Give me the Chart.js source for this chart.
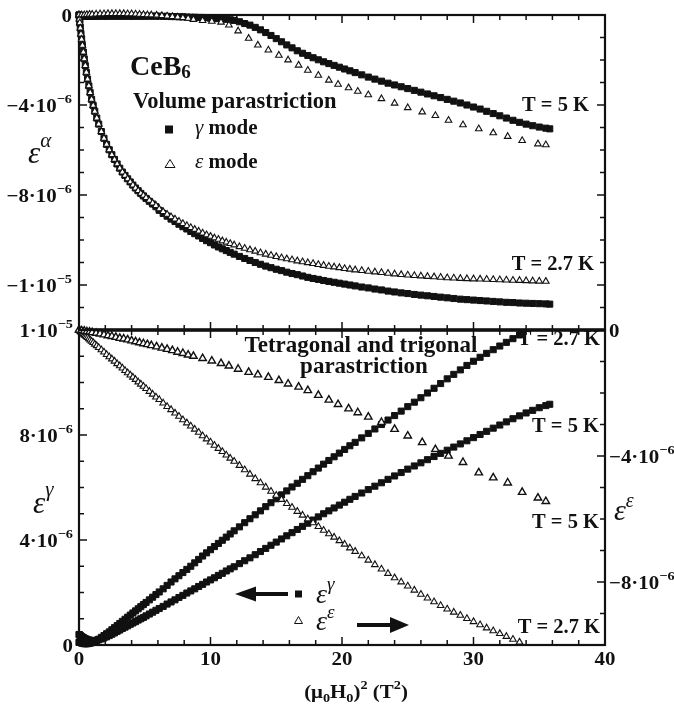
<!DOCTYPE html>
<html><head><meta charset="utf-8">
<script src="https://cdn.jsdelivr.net/npm/chart.js@4.4.1/dist/chart.umd.min.js"></script>
<style>
html,body{margin:0;padding:0;background:#fff;}
#wrap{position:relative;width:674px;height:704px;background:#fff;}
canvas{position:absolute;left:0;top:0;width:674px;height:704px;}
</style>
</head><body>
<div id="wrap"><canvas id="cBot" width="674" height="704"></canvas><canvas id="cTop" width="674" height="704"></canvas></div>
<script>
// ---------- DATA (strain values in units of 1e-6) ----------
const X_DENSE = [0,0.03,0.06,0.1,0.15,0.2,0.26,0.33,0.4,0.48,
 0.56,0.65,0.75,0.85,0.96,1.08,1.2,1.35,1.5,1.7,
 1.9,2.1,2.3,2.5,2.7,2.9,3.1,3.3,3.5,3.7,
 3.9,4.1,4.3,4.5,4.7,4.9,5.1,5.35,5.6,5.85,
 6.1,6.4,6.7,7.0,7.3,7.6,7.9,8.2,8.5,8.8,
 9.1,9.4,9.7,10.0,10.3,10.6,10.9,11.2,11.5,11.8,
 12.2,12.6,13.0,13.4,13.8,14.2,14.6,15.0,15.4,15.8,
 16.2,16.6,17.0,17.4,17.8,18.2,18.6,19.0,19.4,19.8,
 20.2,20.6,21.0,21.5,22.0,22.5,23.0,23.5,24.0,24.5,
 25.0,25.5,26.0,26.5,27.0,27.5,28.0,28.5,29.0,29.5,
 30.0,30.5,31.0,31.5,32.0,32.5,33.0,33.5,34.0,34.5,
 35.0,35.5,35.8];

// top panel: volume strain, gamma mode, T = 2.7 K (squares)
const TOP_GAMMA_27 = [0,-0.18,-0.35,-0.58,-0.85,-1.08,-1.35,-1.65,-1.95,-2.25,
 -2.55,-2.85,-3.15,-3.45,-3.75,-4.02,-4.28,-4.58,-4.85,-5.18,
 -5.48,-5.75,-5.99,-6.21,-6.42,-6.62,-6.81,-6.98,-7.13,-7.28,
 -7.42,-7.56,-7.69,-7.81,-7.93,-8.04,-8.15,-8.28,-8.4,-8.52,
 -8.68,-8.82,-8.94,-9.07,-9.18,-9.3,-9.41,-9.51,-9.62,-9.72,
 -9.82,-9.93,-10.03,-10.12,-10.22,-10.31,-10.39,-10.47,-10.55,-10.63,
 -10.73,-10.82,-10.91,-11.0,-11.08,-11.16,-11.23,-11.3,-11.36,-11.43,
 -11.49,-11.54,-11.6,-11.66,-11.71,-11.75,-11.8,-11.84,-11.88,-11.92,
 -11.96,-12.0,-12.04,-12.09,-12.13,-12.18,-12.22,-12.27,-12.31,-12.35,
 -12.38,-12.42,-12.45,-12.48,-12.51,-12.54,-12.57,-12.6,-12.63,-12.65,
 -12.67,-12.69,-12.71,-12.73,-12.75,-12.77,-12.78,-12.8,-12.81,-12.82,
 -12.83,-12.84,-12.85];
// top panel: eps mode, T = 2.7 K (triangles)
const TOP_EPS_27 = [0,-0.18,-0.35,-0.58,-0.85,-1.08,-1.35,-1.65,-1.95,-2.25,
 -2.55,-2.85,-3.15,-3.45,-3.75,-4.02,-4.28,-4.58,-4.85,-5.18,
 -5.48,-5.75,-5.99,-6.21,-6.42,-6.62,-6.81,-6.98,-7.13,-7.28,
 -7.42,-7.56,-7.69,-7.81,-7.93,-8.02,-8.12,-8.24,-8.36,-8.47,
 -8.62,-8.74,-8.86,-8.97,-9.07,-9.17,-9.27,-9.36,-9.45,-9.53,
 -9.61,-9.69,-9.77,-9.84,-9.91,-9.97,-10.04,-10.1,-10.16,-10.22,
 -10.3,-10.37,-10.44,-10.5,-10.57,-10.63,-10.68,-10.74,-10.79,-10.84,
 -10.88,-10.93,-10.97,-11.01,-11.05,-11.09,-11.13,-11.17,-11.2,-11.23,
 -11.27,-11.3,-11.33,-11.36,-11.39,-11.42,-11.45,-11.48,-11.51,-11.54,
 -11.56,-11.58,-11.6,-11.62,-11.64,-11.66,-11.68,-11.69,-11.71,-11.72,
 -11.73,-11.74,-11.75,-11.76,-11.77,-11.78,-11.79,-11.8,-11.81,-11.82,
 -11.83,-11.84,null];
// top panel: gamma mode, T = 5 K (squares)
const TOP_GAMMA_5 = [0,-0.01,-0.02,-0.03,-0.04,-0.05,-0.05,-0.05,-0.05,-0.05,
 -0.05,-0.05,-0.05,-0.05,-0.05,-0.05,-0.05,-0.05,-0.05,-0.05,
 -0.05,-0.05,-0.05,-0.05,-0.05,-0.05,-0.05,-0.05,-0.05,-0.05,
 -0.05,-0.05,-0.05,-0.05,-0.05,-0.05,-0.05,-0.05,-0.05,-0.05,
 -0.05,-0.06,-0.06,-0.07,-0.07,-0.08,-0.08,-0.09,-0.1,-0.1,
 -0.11,-0.11,-0.12,-0.14,-0.15,-0.16,-0.17,-0.19,-0.21,-0.24,
 -0.3,-0.38,-0.45,-0.55,-0.66,-0.78,-0.91,-1.05,-1.19,-1.33,
 -1.46,-1.59,-1.7,-1.8,-1.9,-1.99,-2.08,-2.16,-2.24,-2.32,
 -2.4,-2.48,-2.56,-2.66,-2.76,-2.85,-2.94,-3.03,-3.11,-3.19,
 -3.27,-3.35,-3.43,-3.51,-3.59,-3.67,-3.75,-3.83,-3.91,-4.0,
 -4.09,-4.18,-4.28,-4.38,-4.48,-4.58,-4.68,-4.77,-4.85,-4.92,
 -4.98,-5.03,-5.06];

// bottom panel: eps_gamma (left axis), T = 2.7 K (squares)
const BOT_GAMMA_27 = [0.1,0.1,0.1,0.1,0.09,0.08,0.07,0.06,0.05,0.05,
 0.05,0.05,0.06,0.07,0.09,0.11,0.14,0.18,0.22,0.29,
 0.36,0.43,0.5,0.58,0.66,0.74,0.82,0.9,0.98,1.06,
 1.14,1.22,1.3,1.38,1.46,1.54,1.62,1.72,1.82,1.92,
 2.02,2.14,2.27,2.4,2.52,2.64,2.76,2.88,3.0,3.13,
 3.26,3.39,3.51,3.63,3.75,3.87,3.99,4.11,4.23,4.35,
 4.5,4.66,4.81,4.96,5.11,5.27,5.42,5.57,5.72,5.87,
 6.02,6.16,6.31,6.45,6.6,6.74,6.89,7.03,7.17,7.31,
 7.45,7.59,7.72,7.89,8.06,8.23,8.4,8.57,8.74,8.91,
 9.08,9.25,9.42,9.6,9.78,9.96,10.14,10.31,10.48,10.65,
 10.81,10.96,11.11,11.25,11.39,11.53,11.67,11.81,null,null,
 null,null,null];
// bottom panel: eps_gamma (left axis), T = 5 K (squares)
const BOT_GAMMA_5 = [0.4,0.39,0.38,0.36,0.34,0.32,0.3,0.28,0.26,0.24,
 0.22,0.2,0.19,0.18,0.17,0.17,0.17,0.18,0.2,0.23,
 0.27,0.31,0.36,0.41,0.46,0.52,0.57,0.63,0.68,0.73,
 0.79,0.84,0.89,0.95,1.0,1.05,1.11,1.18,1.25,1.32,
 1.39,1.47,1.56,1.64,1.72,1.81,1.89,1.98,2.06,2.14,
 2.23,2.31,2.4,2.48,2.56,2.65,2.73,2.82,2.9,2.98,
 3.1,3.21,3.32,3.44,3.56,3.68,3.8,3.92,4.04,4.16,
 4.28,4.4,4.52,4.64,4.76,4.88,5.0,5.11,5.22,5.33,
 5.44,5.55,5.66,5.79,5.92,6.05,6.18,6.31,6.44,6.57,
 6.7,6.82,6.94,7.06,7.18,7.3,7.42,7.54,7.66,7.78,
 7.9,8.02,8.14,8.26,8.38,8.5,8.62,8.73,8.84,8.94,
 9.04,9.12,9.17];
// bottom panel: eps_eps (right axis), T = 2.7 K (triangles)
const BOT_EPS_27 = [0,-0.01,-0.02,-0.04,-0.06,-0.08,-0.1,-0.13,-0.15,-0.18,
 -0.21,-0.24,-0.28,-0.32,-0.36,-0.4,-0.45,-0.5,-0.56,-0.63,
 -0.7,-0.78,-0.85,-0.92,-0.99,-1.07,-1.14,-1.21,-1.29,-1.36,
 -1.43,-1.5,-1.57,-1.65,-1.72,-1.79,-1.86,-1.95,-2.04,-2.13,
 -2.21,-2.32,-2.43,-2.53,-2.64,-2.74,-2.85,-2.95,-3.05,-3.15,
 -3.25,-3.36,-3.46,-3.56,-3.66,-3.76,-3.86,-3.97,-4.07,-4.17,
 -4.3,-4.44,-4.58,-4.72,-4.85,-4.99,-5.12,-5.25,-5.38,-5.51,
 -5.63,-5.76,-5.88,-6.0,-6.12,-6.24,-6.36,-6.47,-6.58,-6.69,
 -6.8,-6.92,-7.03,-7.17,-7.31,-7.45,-7.59,-7.73,-7.87,-8.0,
 -8.13,-8.26,-8.39,-8.51,-8.63,-8.75,-8.86,-8.96,-9.06,-9.16,
 -9.26,-9.36,-9.46,-9.55,-9.64,-9.73,-9.82,-9.91,null,null,
 null,null,null];

const X_SPARSE = [0,0.2,0.4,0.6,0.8,1.0,1.3,1.6,1.9,2.2,
 2.5,2.8,3.1,3.4,3.7,4.0,4.3,4.6,4.9,5.2,
 5.5,5.9,6.3,6.7,7.1,7.5,7.9,8.3,8.7,9.4,
 10.1,10.8,11.4,12.1,12.9,13.6,14.4,15.2,15.9,16.7,
 17.4,18.2,19.0,19.7,20.5,21.2,22.0,23.0,24.0,25.0,
 26.1,27.1,28.1,29.2,30.4,31.5,32.6,33.7,34.9,35.5];
// top panel: eps mode, T = 5 K (triangles)
const TOP_EPS_5 = [0,0,0.01,0.02,0.03,0.03,0.04,0.05,0.05,0.06,
 0.06,0.06,0.06,0.06,0.05,0.05,0.04,0.03,0.02,0.01,
 0,-0.01,-0.03,-0.05,-0.07,-0.09,-0.12,-0.15,-0.2,-0.25,
 -0.28,-0.32,-0.45,-0.71,-1.04,-1.34,-1.56,-1.79,-2.0,-2.23,
 -2.46,-2.68,-2.9,-3.08,-3.24,-3.39,-3.55,-3.72,-3.92,-4.12,
 -4.31,-4.47,-4.68,-4.88,-5.06,-5.24,-5.4,-5.58,-5.73,-5.77];
// bottom panel: eps_eps (right axis), T = 5 K (triangles)
const BOT_EPS_5 = [0,-0.02,-0.03,-0.05,-0.06,-0.08,-0.1,-0.12,-0.15,-0.18,
 -0.2,-0.23,-0.26,-0.28,-0.31,-0.34,-0.37,-0.4,-0.43,-0.46,
 -0.49,-0.53,-0.57,-0.61,-0.65,-0.7,-0.74,-0.79,-0.83,-0.9,
 -0.98,-1.06,-1.14,-1.24,-1.34,-1.42,-1.5,-1.6,-1.71,-1.81,
 -1.92,-2.07,-2.22,-2.36,-2.5,-2.62,-2.76,-2.93,-3.15,-3.36,
 -3.57,-3.79,-4.0,-4.2,-4.53,-4.69,-4.85,-5.15,-5.33,-5.44];

// ---------- AXES / TICKS ----------
const X_MAJOR = [0,10,20,30,40];
const X_LABELS = ['0','10','20','30','40'];
const TOP_Y_MAJOR = [0,-4,-8,-12];
const TOP_Y_LABELS = [['0',''],['\u22124\u00b710','\u22126'],['\u22128\u00b710','\u22126'],['\u22121\u00b710','\u22125']];
const BOT_L_MAJOR = [0,4,8,12];
const BOT_L_LABELS = [['0',''],['4\u00b710','\u22126'],['8\u00b710','\u22126'],['1\u00b710','\u22125']];
const BOT_R_MAJOR = [0,-4,-8];
const BOT_R_LABELS = [['0',''],['\u22124\u00b710','\u22126'],['\u22128\u00b710','\u22126']];

function pairs(xs, ys){ const out=[]; for(let i=0;i<xs.length;i++){ if(ys[i]!==null && ys[i]!==undefined) out.push({x:xs[i], y:ys[i]}); } return out; }

const SERIF = '"Liberation Serif","Times New Roman",serif';
const INK = '#111';
function F(style,size){ return style+' '+size+'px '+SERIF; }
function runs(ctx, parts, x, y, align){
  let total=0;
  for(const p of parts){ ctx.font=p.f; p.w=ctx.measureText(p.t).width*(p.sx||1); total+=p.w; }
  let cx = align==='right' ? x-total : (align==='center' ? x-total/2 : x);
  for(const p of parts){
    ctx.save(); ctx.font=p.f; ctx.fillStyle=INK; ctx.textAlign='left'; ctx.textBaseline='alphabetic';
    ctx.translate(cx, y+(p.dy||0)); ctx.scale(p.sx||1,1); ctx.fillText(p.t,0,0); ctx.restore();
    cx+=p.w;
  }
}
function sci(lbl){ const a=[{t:lbl[0],f:F('bold',19),sx:1.1}]; if(lbl[1]) a.push({t:lbl[1],f:F('bold',13),sx:1.1,dy:-9}); return a; }

function line(ctx,x1,y1,x2,y2){ ctx.beginPath(); ctx.moveTo(x1,y1); ctx.lineTo(x2,y2); ctx.stroke(); }
function ticksX(ctx, xs, y, dir){
  ctx.lineWidth=1.5;
  for(let v=0; v<=40; v+=2){ const px=xs.getPixelForValue(v); line(ctx,px,y,px,y+dir*(X_MAJOR.includes(v)?8:5)); }
}
function ticksY(ctx, ys, x, dir, lo, hi, majors){
  ctx.lineWidth=1.5;
  for(let v=lo; v<=hi; v+=1){ const py=ys.getPixelForValue(v); line(ctx,x,py,x+dir*(majors.includes(v)?8:5),py); }
}
function sq(ctx,cx,cy,s){ ctx.fillStyle=INK; ctx.fillRect(cx-s/2,cy-s/2,s,s); }
function tri(ctx,cx,cy,w,h){ ctx.beginPath(); ctx.moveTo(cx,cy-h/2); ctx.lineTo(cx+w/2,cy+h/2); ctx.lineTo(cx-w/2,cy+h/2); ctx.closePath(); ctx.fillStyle='#fff'; ctx.fill(); ctx.strokeStyle=INK; ctx.lineWidth=1; ctx.stroke(); }
function arrow(ctx, x1, x2, y, headLen, headH, shaft){
  const dir = Math.sign(x2-x1);
  const hb = x2 - dir*headLen;
  ctx.fillStyle=INK;
  ctx.fillRect(Math.min(x1,hb), y-shaft/2, Math.abs(hb-x1), shaft);
  ctx.beginPath(); ctx.moveTo(x2,y); ctx.lineTo(hb,y-headH/2); ctx.lineTo(hb,y+headH/2); ctx.closePath(); ctx.fill();
}

const SQ = {pointStyle:'rect', pointRadius:4.3, backgroundColor:INK, borderColor:INK, borderWidth:1, showLine:false, clip:false};
const TR = {pointStyle:'triangle', pointRadius:3.8, backgroundColor:'#fff', borderColor:INK, borderWidth:1.1, showLine:false, clip:false};
const TR_BIG = {pointStyle:'triangle', pointRadius:4.3, backgroundColor:'#fff', borderColor:INK, borderWidth:1.4, showLine:false, clip:false};

const L=79, R=605, TOPY=15, MID=330, BOTY=645, W=674, H=704;

// ---------- TOP PANEL ----------
const topPlugin = {
  id:'topDeco',
  beforeDatasetsDraw(chart){
    const ctx=chart.ctx, xs=chart.scales.x, ys=chart.scales.y;
    ctx.save(); ctx.strokeStyle=INK;
    ticksX(ctx,xs,TOPY,1); ticksX(ctx,xs,MID,-1);
    ticksY(ctx,ys,L,1,-14,0,TOP_Y_MAJOR); ticksY(ctx,ys,R,-1,-14,0,TOP_Y_MAJOR);
    ctx.lineWidth=2.2; ctx.strokeRect(L,TOPY,R-L,MID-TOPY);
    ctx.restore();
  },
  afterDraw(chart){
    const ctx=chart.ctx, ys=chart.scales.y;
    ctx.save();
    TOP_Y_MAJOR.forEach((v,i)=>{ runs(ctx, sci(TOP_Y_LABELS[i]), 72, ys.getPixelForValue(v)+6.5, 'right'); });
    runs(ctx,[{t:'\u03b5',f:F('italic',31)},{t:'\u03b1',f:F('italic',21),dy:-16}],28,163,'left');
    runs(ctx,[{t:'CeB',f:F('bold',28)},{t:'6',f:F('bold',19),dy:3}],130,75,'left');
    runs(ctx,[{t:'Volume parastriction',f:F('bold',22.5)}],133,108,'left');
    sq(ctx,169,129.5,8);
    runs(ctx,[{t:'\u03b3',f:F('italic',21)},{t:' mode',f:F('bold',21)}],195,134,'left');
    tri(ctx,170,163.5,10,8);
    runs(ctx,[{t:'\u03b5',f:F('italic',21)},{t:' mode',f:F('bold',21)}],195,168,'left');
    runs(ctx,[{t:'T = 5 K',f:F('bold',20.5)}],589,111,'right');
    runs(ctx,[{t:'T = 2.7 K',f:F('bold',20.5)}],594,270,'right');
    ctx.restore();
  }
};

new Chart(document.getElementById('cTop'),{
  type:'scatter',
  data:{datasets:[
    Object.assign({data:pairs(X_SPARSE,TOP_EPS_5)},TR),
    Object.assign({data:pairs(X_DENSE,TOP_EPS_27)},TR),
    Object.assign({data:pairs(X_DENSE,TOP_GAMMA_5)},SQ),
    Object.assign({data:pairs(X_DENSE,TOP_GAMMA_27)},SQ)
  ]},
  options:{
    responsive:false, animation:false, devicePixelRatio:1, events:[],
    layout:{padding:{left:L,right:W-R,top:TOPY,bottom:H-MID}},
    plugins:{legend:{display:false},tooltip:{enabled:false}},
    scales:{x:{type:'linear',min:0,max:40,display:false},y:{type:'linear',min:-14,max:0,display:false}}
  },
  plugins:[topPlugin]
});

// ---------- BOTTOM PANEL ----------
const botPlugin = {
  id:'botDeco',
  beforeDatasetsDraw(chart){
    const ctx=chart.ctx, xs=chart.scales.x, yl=chart.scales.yL, yr=chart.scales.yR;
    ctx.save(); ctx.strokeStyle=INK;
    ticksX(ctx,xs,MID,1); ticksX(ctx,xs,BOTY,-1);
    ticksY(ctx,yl,L,1,0,12,BOT_L_MAJOR); ticksY(ctx,yr,R,-1,-10,0,BOT_R_MAJOR);
    ctx.lineWidth=2.2; ctx.strokeRect(L,MID,R-L,BOTY-MID);
    ctx.lineWidth=3.5; line(ctx,L-1,MID,R+1,MID);
    ctx.restore();
  },
  afterDraw(chart){
    const ctx=chart.ctx, xs=chart.scales.x, yl=chart.scales.yL, yr=chart.scales.yR;
    ctx.save();
    BOT_L_MAJOR.forEach((v,i)=>{ runs(ctx, sci(BOT_L_LABELS[i]), 73, yl.getPixelForValue(v)+6.5, 'right'); });
    BOT_R_MAJOR.forEach((v,i)=>{ runs(ctx, sci(BOT_R_LABELS[i]), 609, yr.getPixelForValue(v)+6.5, 'left'); });
    X_MAJOR.forEach((v,i)=>{ runs(ctx,[{t:X_LABELS[i],f:F('bold',19),sx:1.1}], xs.getPixelForValue(v), 665, 'center'); });
    const b=F('bold',19), s=F('bold',13);
    runs(ctx,[{t:'(\u03bc',f:b,sx:1.1},{t:'0',f:s,sx:1.1,dy:4},{t:'H',f:b,sx:1.1},{t:'0',f:s,sx:1.1,dy:4},{t:')',f:b,sx:1.1},{t:'2',f:s,sx:1.1,dy:-9},{t:' (T',f:b,sx:1.1},{t:'2',f:s,sx:1.1,dy:-9},{t:')',f:b,sx:1.1}],356,698,'center');
    runs(ctx,[{t:'\u03b5',f:F('italic',31)},{t:'\u03b3',f:F('italic',21),dy:-17}],33,513,'left');
    runs(ctx,[{t:'\u03b5',f:F('italic',30)},{t:'\u03b5',f:F('italic',20),dy:-13}],614,520,'left');
    runs(ctx,[{t:'Tetragonal and trigonal',f:F('bold',23)}],361,352,'center');
    runs(ctx,[{t:'parastriction',f:F('bold',23)}],364,373,'center');
    runs(ctx,[{t:'T = 2.7 K',f:F('bold',20.5)}],600,345,'right');
    runs(ctx,[{t:'T = 5 K',f:F('bold',20.5)}],599,432,'right');
    runs(ctx,[{t:'T = 5 K',f:F('bold',20.5)}],599,528,'right');
    runs(ctx,[{t:'T = 2.7 K',f:F('bold',20.5)}],600,633,'right');
    arrow(ctx,288,235,594,21,15,4);
    sq(ctx,298.5,594,7);
    runs(ctx,[{t:'\u03b5',f:F('italic',28)},{t:'\u03b3',f:F('italic',19),dy:-13}],316,603,'left');
    tri(ctx,298.5,620,8,7);
    runs(ctx,[{t:'\u03b5',f:F('italic',28)},{t:'\u03b5',f:F('italic',19),dy:-12}],316,630,'left');
    arrow(ctx,357,409,625,19,16,4);
    ctx.restore();
  }
};

new Chart(document.getElementById('cBot'),{
  type:'scatter',
  data:{datasets:[
    Object.assign({data:pairs(X_SPARSE,BOT_EPS_5),yAxisID:'yR'},TR_BIG),
    Object.assign({data:pairs(X_DENSE,BOT_EPS_27),yAxisID:'yR'},TR),
    Object.assign({data:pairs(X_DENSE,BOT_GAMMA_5),yAxisID:'yL'},SQ),
    Object.assign({data:pairs(X_DENSE,BOT_GAMMA_27),yAxisID:'yL'},SQ)
  ]},
  options:{
    responsive:false, animation:false, devicePixelRatio:1, events:[],
    layout:{padding:{left:L,right:W-R,top:MID,bottom:H-BOTY}},
    plugins:{legend:{display:false},tooltip:{enabled:false}},
    scales:{
      x:{type:'linear',min:0,max:40,display:false},
      yL:{type:'linear',position:'left',min:0,max:12,display:false},
      yR:{type:'linear',position:'right',min:-10,max:0,display:false}
    }
  },
  plugins:[botPlugin]
});
</script>
</body></html>
